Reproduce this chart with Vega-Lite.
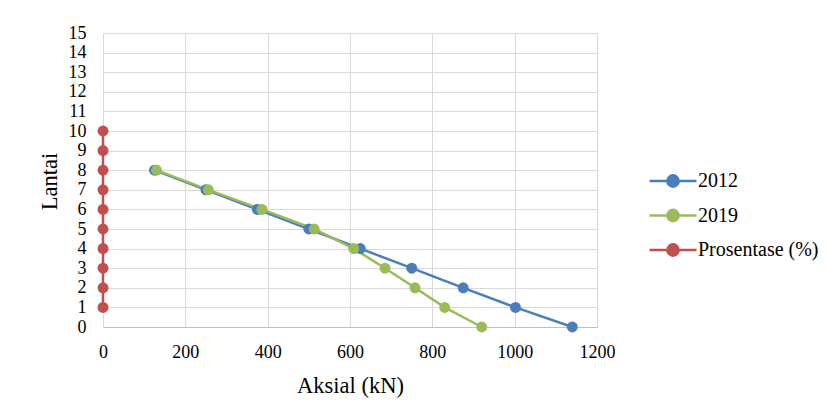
{
  "$schema": "https://vega.github.io/schema/vega-lite/v6.json",
  "width": 494,
  "height": 294,
  "autosize": {"type": "none"},
  "padding": {"left": 103, "top": 33, "right": 231, "bottom": 92},
  "background": "white",
  "data": {
    "values": [
      {"series": "2012", "lantai": 8, "aksial": 125},
      {"series": "2012", "lantai": 7, "aksial": 250},
      {"series": "2012", "lantai": 6, "aksial": 375},
      {"series": "2012", "lantai": 5, "aksial": 500},
      {"series": "2012", "lantai": 4, "aksial": 625},
      {"series": "2012", "lantai": 3, "aksial": 750},
      {"series": "2012", "lantai": 2, "aksial": 875},
      {"series": "2012", "lantai": 1, "aksial": 1002},
      {"series": "2012", "lantai": 0, "aksial": 1140},
      {"series": "2019", "lantai": 8, "aksial": 130},
      {"series": "2019", "lantai": 7, "aksial": 256},
      {"series": "2019", "lantai": 6, "aksial": 386},
      {"series": "2019", "lantai": 5, "aksial": 513},
      {"series": "2019", "lantai": 4, "aksial": 609},
      {"series": "2019", "lantai": 3, "aksial": 685},
      {"series": "2019", "lantai": 2, "aksial": 758},
      {"series": "2019", "lantai": 1, "aksial": 830},
      {"series": "2019", "lantai": 0, "aksial": 920},
      {"series": "Prosentase (%)", "lantai": 1, "aksial": 0},
      {"series": "Prosentase (%)", "lantai": 2, "aksial": 0},
      {"series": "Prosentase (%)", "lantai": 3, "aksial": 0},
      {"series": "Prosentase (%)", "lantai": 4, "aksial": 0},
      {"series": "Prosentase (%)", "lantai": 5, "aksial": 0},
      {"series": "Prosentase (%)", "lantai": 6, "aksial": 0},
      {"series": "Prosentase (%)", "lantai": 7, "aksial": 0},
      {"series": "Prosentase (%)", "lantai": 8, "aksial": 0},
      {"series": "Prosentase (%)", "lantai": 9, "aksial": 0},
      {"series": "Prosentase (%)", "lantai": 10, "aksial": 0}
    ]
  },
  "encoding": {
    "x": {
      "field": "aksial", "type": "quantitative",
      "scale": {"domain": [0, 1200], "nice": false},
      "axis": {
        "title": "Aksial (kN)",
        "values": [0, 200, 400, 600, 800, 1000, 1200],
        "format": "d",
        "ticks": false,
        "labelFlush": false,
        "labelPadding": 30,
        "labelBaseline": "alphabetic",
        "titleX": 247, "titleY": 65, "titleBaseline": "alphabetic"
      }
    },
    "y": {
      "field": "lantai", "type": "quantitative",
      "scale": {"domain": [0, 15], "nice": false},
      "axis": {
        "title": "Lantai",
        "values": [0,1,2,3,4,5,6,7,8,9,10,11,12,13,14,15],
        "format": "d",
        "ticks": false,
        "labelFlush": false,
        "labelPadding": 17,
        "domain": false,
        "titleX": -47, "titleY": 148, "titleAngle": -90, "titleBaseline": "alphabetic", "titleAlign": "center"
      }
    },
    "color": {
      "field": "series", "type": "nominal",
      "scale": {"domain": ["2012", "2019", "Prosentase (%)"], "range": ["#4a7ebb", "#9bbb59", "#c0504d"]},
      "legend": {
        "title": null,
        "orient": "none",
        "legendX": 545,
        "legendY": 138,
        "symbolType": "M-1,0H1M0.24,0A0.24,0.24,0,1,1,-0.24,0A0.24,0.24,0,1,1,0.24,0Z",
        "symbolSize": 2209,
        "symbolStrokeWidth": 2.5,
        "clipHeight": 20,
        "rowPadding": 14.5,
        "labelOffset": 0,
        "labelFont": "Liberation Serif",
        "labelFontSize": 20,
        "labelColor": "#000000",
        "padding": 0
      }
    },
    "order": {"field": "lantai", "type": "quantitative"}
  },
  "layer": [
    {"mark": {"type": "line", "strokeWidth": 2.5}},
    {"mark": {"type": "point", "filled": true, "size": 120, "opacity": 1}}
  ],
  "config": {
    "font": "Liberation Serif",
    "view": {"stroke": null},
    "axis": {
      "gridColor": "#d9d9d9",
      "gridWidth": 1,
      "domainColor": "#bfbfbf",
      "labelFont": "Liberation Serif",
      "titleFont": "Liberation Serif",
      "labelFontSize": 18,
      "labelColor": "#000000",
      "titleFontSize": 22.5,
      "titleFontWeight": "normal",
      "titleColor": "#000000"
    }
  }
}
